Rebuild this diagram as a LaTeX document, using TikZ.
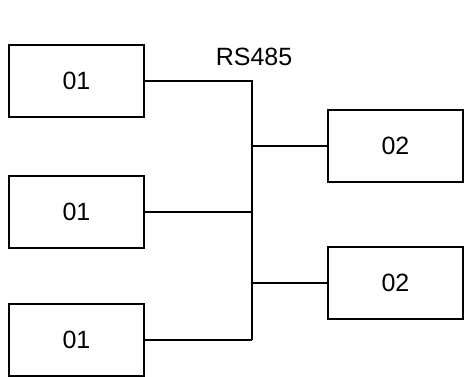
\documentclass[tikz,border=0pt]{standalone}
\usepackage{fontspec}
\setmainfont{Liberation Sans}
\begin{document}
\begin{tikzpicture}[x=1pt,y=-1pt,
  unit/.style={draw, line width=2pt, minimum width=135pt, minimum height=72pt, inner sep=0pt, font=\fontsize{25}{30}\selectfont},
  wire/.style={line width=2pt}]
\useasboundingbox (0,0) rectangle (464,376);
\node[unit] (l1) at (76.5,81) {01};
\node[unit] (l2) at (76.5,212) {01};
\node[unit] (l3) at (76.5,340) {01};
\node[unit] (r1) at (395.5,146) {02};
\node[unit] (r2) at (395.5,283) {02};
\coordinate (bb) at (252,340);
\node[font=\fontsize{25}{30}\selectfont, inner sep=0pt] (lab) at (254,57) {RS485};
\draw[wire] (l1.east) -| (bb);
\draw[wire] (l2.east) -- (l2.east -| bb);
\draw[wire] (l3.east) -- (bb);
\draw[wire] (r1.west) -- (r1.west -| bb);
\draw[wire] (r2.west) -- (r2.west -| bb);
\end{tikzpicture}
\end{document}
